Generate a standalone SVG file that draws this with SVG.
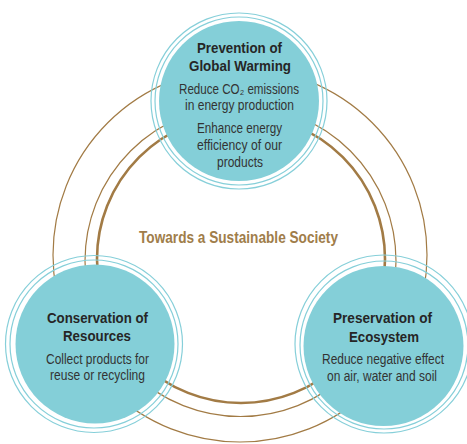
<svg xmlns="http://www.w3.org/2000/svg" width="467" height="444" viewBox="0 0 467 444">
<style>
.ring{fill:none;stroke:#86cfd9;stroke-width:1.2}
.fill{fill:#84cfd8}
.arc{fill:none;stroke:#a27b45}
.thin{stroke-width:1.2}
.thick{stroke-width:2.6}
.title{font-family:"Liberation Sans",Arial,sans-serif;font-weight:bold;font-size:15px;fill:#262626;text-anchor:middle}
.body{font-family:"Liberation Sans",Arial,sans-serif;font-size:14px;fill:#333333;text-anchor:middle}
.center{font-family:"Liberation Sans",Arial,sans-serif;font-weight:bold;font-size:16px;fill:#a07d4a;text-anchor:middle}
</style>
<rect width="467" height="444" fill="#ffffff"/>
<g id="connectors">
<circle class="arc thick" cx="241" cy="259" r="144"/>
<circle class="arc thin" cx="240.5" cy="261" r="155.5"/>
<circle class="arc thin" cx="240" cy="255" r="187"/>
</g>
<g id="node-prevention">
<circle class="ring" cx="239" cy="101" r="88"/>
<circle class="ring" cx="239" cy="101" r="84"/>
<circle class="fill" cx="239" cy="101" r="80"/>
<text class="title" x="239.5" y="53" textLength="85" lengthAdjust="spacingAndGlyphs">Prevention of</text>
<text class="title" x="240" y="71" textLength="102" lengthAdjust="spacingAndGlyphs">Global Warming</text>
<text class="body" x="239" y="94" textLength="120" lengthAdjust="spacingAndGlyphs">Reduce CO₂ emissions</text>
<text class="body" x="239.5" y="110" textLength="109" lengthAdjust="spacingAndGlyphs">in energy production</text>
<text class="body" x="239.5" y="133" textLength="85" lengthAdjust="spacingAndGlyphs">Enhance energy</text>
<text class="body" x="239.5" y="150" textLength="85" lengthAdjust="spacingAndGlyphs">efficiency of our</text>
<text class="body" x="240" y="167" textLength="46" lengthAdjust="spacingAndGlyphs">products</text>
</g>
<g id="node-conservation">
<circle class="ring" cx="94" cy="344" r="88.5"/>
<circle class="ring" cx="94" cy="344" r="84"/>
<circle class="fill" cx="95" cy="344" r="79.5"/>
<text class="title" x="97.5" y="323" textLength="101" lengthAdjust="spacingAndGlyphs">Conservation of</text>
<text class="title" x="97" y="341" textLength="68" lengthAdjust="spacingAndGlyphs">Resources</text>
<text class="body" x="97.5" y="364" textLength="103" lengthAdjust="spacingAndGlyphs">Collect products for</text>
<text class="body" x="97.5" y="380" textLength="95" lengthAdjust="spacingAndGlyphs">reuse or recycling</text>
</g>
<g id="node-preservation">
<circle class="ring" cx="384" cy="344" r="89"/>
<circle class="ring" cx="384" cy="345" r="84"/>
<circle class="fill" cx="383.5" cy="346" r="80"/>
<text class="title" x="382.5" y="323" textLength="99" lengthAdjust="spacingAndGlyphs">Preservation of</text>
<text class="title" x="384" y="342" textLength="70" lengthAdjust="spacingAndGlyphs">Ecosystem</text>
<text class="body" x="383" y="364" textLength="122" lengthAdjust="spacingAndGlyphs">Reduce negative effect</text>
<text class="body" x="382" y="381" textLength="110" lengthAdjust="spacingAndGlyphs">on air, water and soil</text>
</g>
<text class="center" x="238.5" y="243" textLength="199" lengthAdjust="spacingAndGlyphs">Towards a Sustainable Society</text>
</svg>
